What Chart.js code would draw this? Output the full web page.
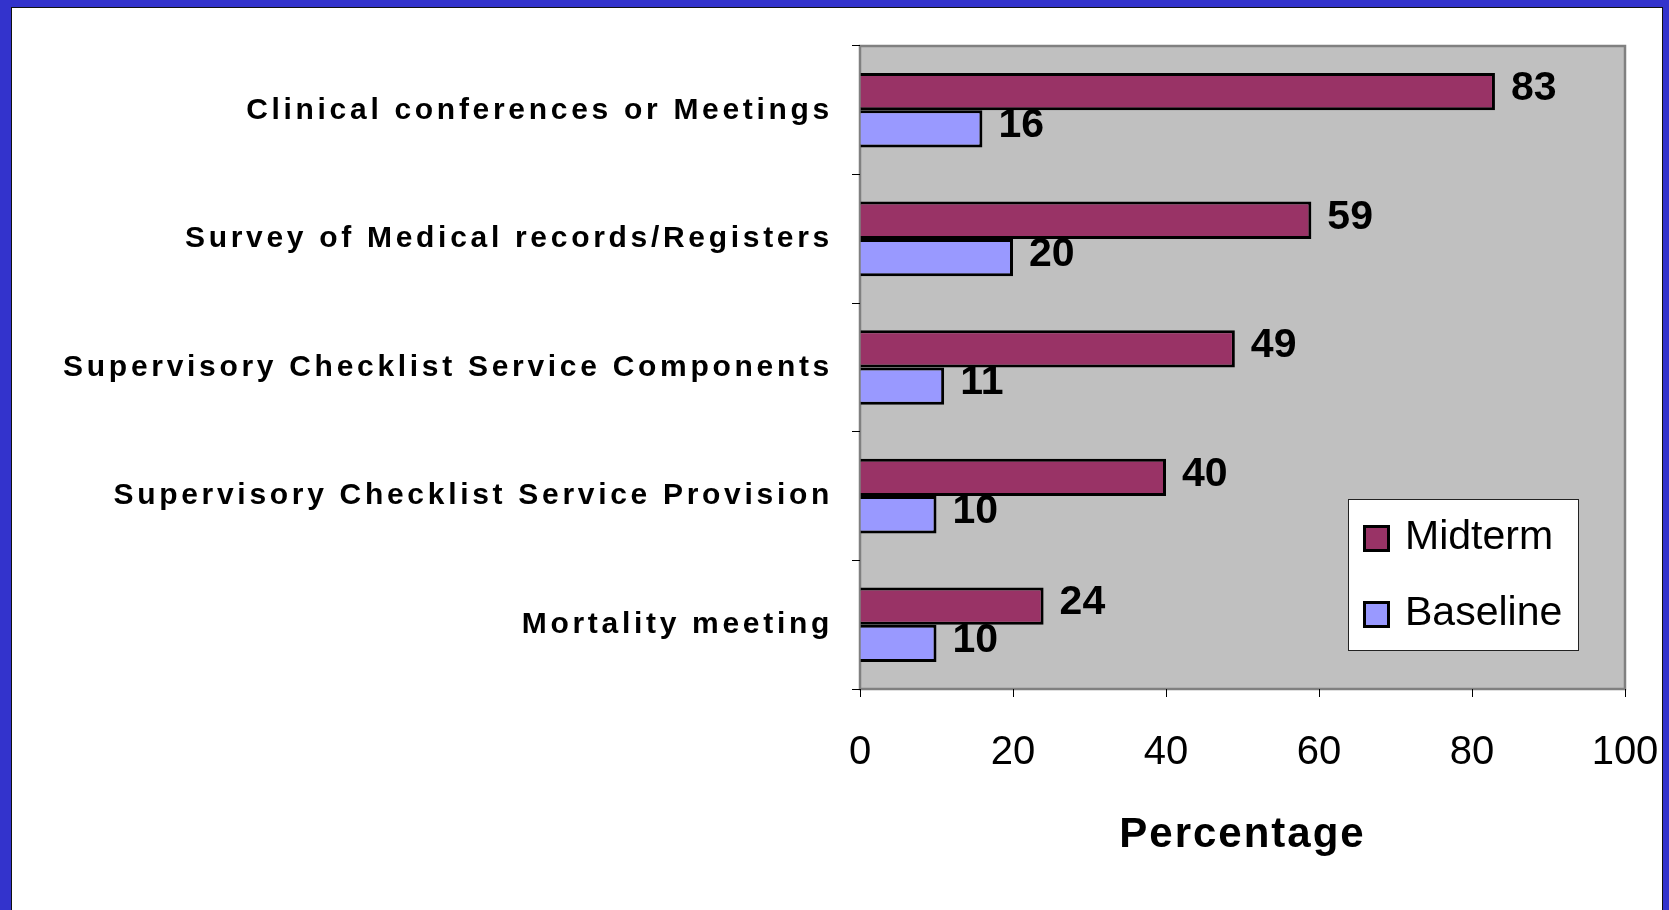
<!DOCTYPE html>
<html>
<head>
<meta charset="utf-8">
<script src="https://cdn.jsdelivr.net/npm/chart.js@4/dist/chart.umd.min.js"></script>
<style>
  html, body { margin: 0; padding: 0; width: 1669px; height: 910px; overflow: hidden; background: #3333cc; }
  #wrap { position: absolute; left: 11px; top: 7px; width: 1652px; height: 903px; background: #ffffff;
          box-sizing: border-box; border-left: 1px solid #111; border-top: 1px solid #111; border-right: 1px solid #111; }
  #chart { position: absolute; left: -1px; top: -1px; }
</style>
</head>
<body>
<div id="wrap"><canvas id="chart" width="1652" height="903"></canvas></div>
<script>
// ---- data ----
const categories = [
  "Clinical conferences or Meetings",
  "Survey of Medical records/Registers",
  "Supervisory Checklist Service Components",
  "Supervisory Checklist Service Provision",
  "Mortality meeting"
];
const midterm = [83, 59, 49, 40, 24];
const baseline = [16, 20, 11, 10, 10];
const seriesNames = ["Midterm", "Baseline"];
const xTicks = [0, 20, 40, 60, 80, 100];
const xTitle = "Percentage";

const FONT = '"Liberation Sans", Arial, Helvetica, sans-serif';
const colors = ["#993366", "#9999ff"];

// letter spacing for category labels & axis title
const spacingPlugin = {
  id: 'spacing',
  beforeDraw(chart) {
    const y = chart.scales.y, x = chart.scales.x;
    if (!y._wrappedLS) {
      const orig = y.drawLabels;
      y.drawLabels = function (area) {
        const ctx = this.ctx; ctx.save(); ctx.letterSpacing = '3.7px'; orig.call(this, area); ctx.restore();
      };
      y._wrappedLS = true;
    }
    if (!x._wrappedLS) {
      const origT = x.drawTitle;
      x.drawTitle = function (area) {
        const ctx = this.ctx; ctx.save(); ctx.letterSpacing = '2px'; origT.call(this, area); ctx.restore();
      };
      x._wrappedLS = true;
    }
  }
};

// plot area background + border
const plotBg = {
  id: 'plotBg',
  beforeDraw(chart) {
    const {ctx, chartArea: a} = chart;
    ctx.save();
    ctx.fillStyle = '#c0c0c0';
    ctx.fillRect(a.left, a.top, a.right - a.left, a.bottom - a.top);
    ctx.strokeStyle = '#808080';
    ctx.lineWidth = 2.5;
    ctx.strokeRect(a.left, a.top, a.right - a.left, a.bottom - a.top);
    ctx.restore();
  }
};

// value labels
const valueLabels = {
  id: 'valueLabels',
  afterDatasetsDraw(chart) {
    const ctx = chart.ctx;
    ctx.save();
    ctx.letterSpacing = '0px';
    ctx.font = 'bold 41px ' + FONT;
    ctx.fillStyle = '#000';
    ctx.textAlign = 'left';
    ctx.textBaseline = 'middle';
    chart.data.datasets.forEach((ds, i) => {
      chart.getDatasetMeta(i).data.forEach((bar, j) => {
        ctx.fillText(String(ds.data[j]), bar.x + 16, bar.y - 3);
      });
    });
    ctx.restore();
  }
};

// legend box inside plot area
const boxLegend = {
  id: 'boxLegend',
  afterDraw(chart) {
    const {ctx, chartArea: a} = chart;
    const w = 230, h = 151;
    const bx = a.right - 47 - w, by = a.bottom - 39 - h;
    ctx.save();
    ctx.fillStyle = '#fff';
    ctx.fillRect(bx, by, w, h);
    ctx.strokeStyle = '#222';
    ctx.lineWidth = 1;
    ctx.strokeRect(bx + 0.5, by + 0.5, w, h);
    ctx.font = '41px ' + FONT;
    ctx.textAlign = 'left';
    ctx.textBaseline = 'middle';
    chart.data.datasets.forEach((ds, i) => {
      const cy = by + 39 + i * 76;
      ctx.fillStyle = ds.backgroundColor;
      ctx.fillRect(bx + 15, cy - 13, 27, 27);
      ctx.strokeStyle = '#000';
      ctx.lineWidth = 3;
      ctx.strokeRect(bx + 16.5, cy - 11.5, 24, 24);
      ctx.fillStyle = '#000';
      ctx.fillText(ds.label, bx + 57, cy);
    });
    ctx.restore();
  }
};

new Chart(document.getElementById('chart'), {
  type: 'bar',
  data: {
    labels: categories,
    datasets: [
      { label: seriesNames[0], data: midterm, backgroundColor: colors[0], borderColor: '#000', borderWidth: 3, borderSkipped: 'start' },
      { label: seriesNames[1], data: baseline, backgroundColor: colors[1], borderColor: '#000', borderWidth: 3, borderSkipped: 'start' }
    ]
  },
  options: {
    indexAxis: 'y',
    responsive: false,
    animation: false,
    devicePixelRatio: 1,
    layout: { padding: { left: 0, right: 38, top: 39, bottom: 0 } },
    datasets: { bar: { barPercentage: 1, categoryPercentage: 0.58 } },
    plugins: { legend: { display: false }, tooltip: { enabled: false } },
    scales: {
      y: {
        type: 'category',
        grid: { offset: true, drawOnChartArea: false, drawTicks: true, tickLength: 8, color: '#000', lineWidth: 1 },
        border: { display: false },
        ticks: { color: '#000', font: { family: FONT, size: 30, weight: 'bold' }, padding: 19 },
        afterFit(scale) { scale.width = 849; }
      },
      x: {
        type: 'linear',
        min: 0, max: 100,
        afterBuildTicks(scale) { scale.ticks = xTicks.map(v => ({ value: v })); },
        grid: { drawOnChartArea: false, drawTicks: true, tickLength: 8, color: '#000', lineWidth: 1 },
        border: { display: false },
        ticks: { color: '#000', font: { family: FONT, size: 40 }, padding: 32, maxRotation: 0 },
        title: { display: true, text: xTitle, color: '#000', font: { family: FONT, size: 42, weight: 'bold' }, padding: { top: 0, bottom: 49 } },
        afterFit(scale) { scale.height = 221; scale.paddingLeft = 0; scale.paddingRight = 0; }
      }
    }
  },
  plugins: [spacingPlugin, plotBg, valueLabels, boxLegend]
});
</script>
</body>
</html>
